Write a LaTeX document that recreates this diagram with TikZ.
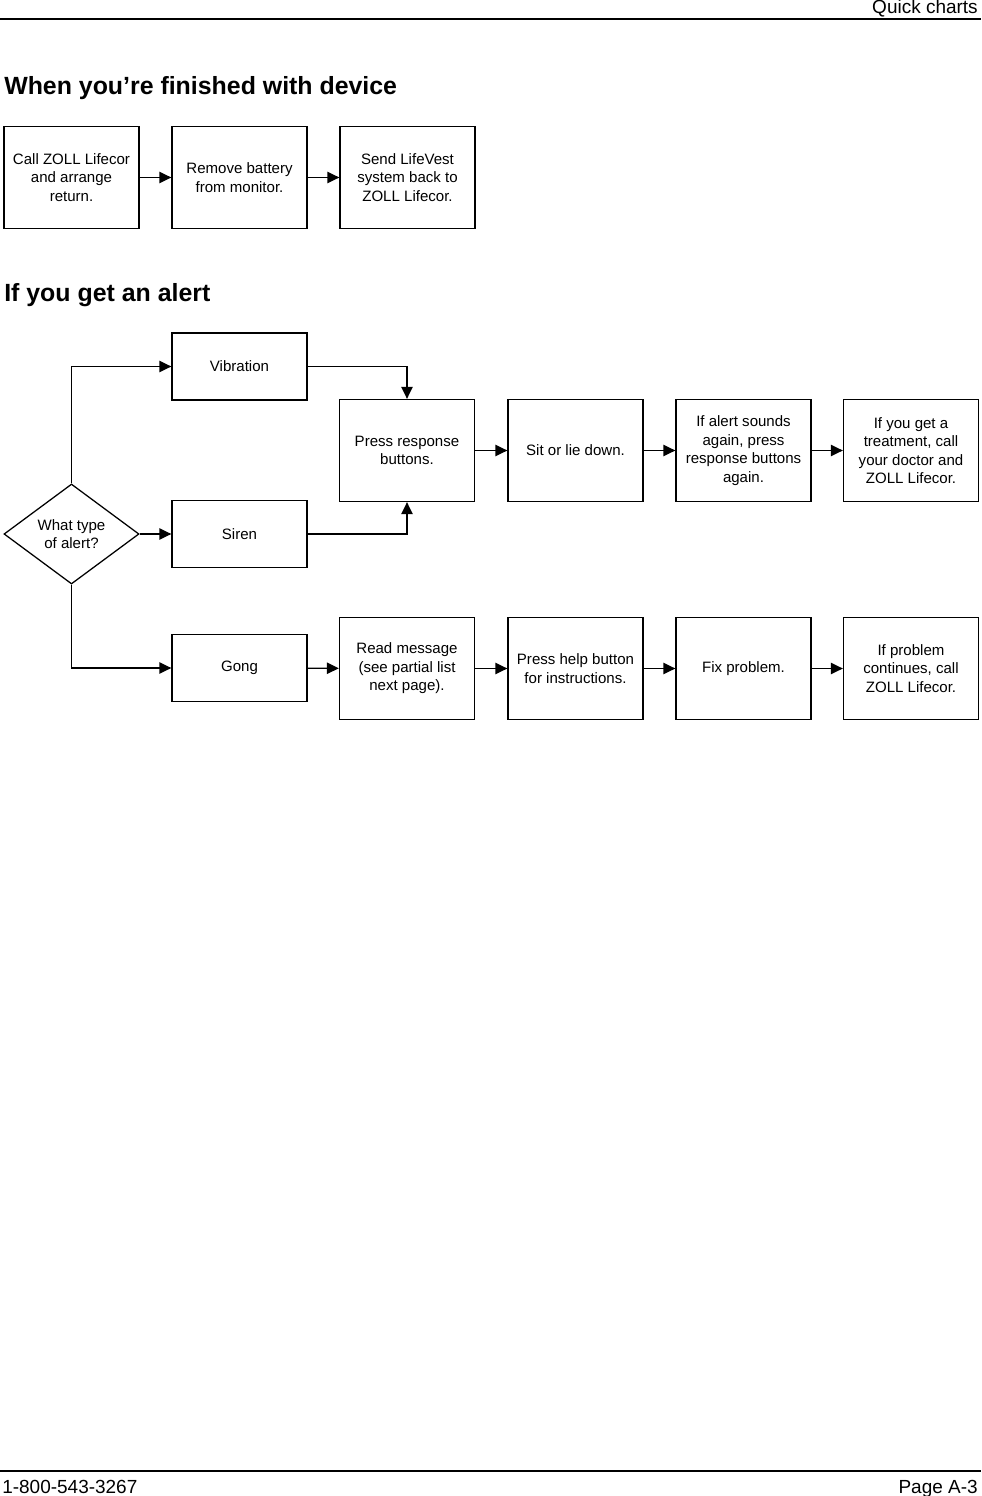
\documentclass[tikz,border=0pt]{standalone}
\usepackage{fontspec}
\setmainfont{Liberation Sans}
\usetikzlibrary{arrows.meta,shapes.geometric}

\begin{document}
\begin{tikzpicture}[x=0.025cm, y=0.025cm]
		\tikzstyle{every node}+=[inner sep=0pt]
		\tikzstyle{stepbox}=[draw=black, line width=0.9pt, align=center, minimum width=3.375cm, minimum height=2.55cm, font=\fontsize{10.7}{13.2}\selectfont]
		\tikzstyle{alertbox}=[stepbox, minimum height=1.67cm]
		\tikzstyle{askbox}=[stepbox, diamond, minimum width=3.375cm, minimum height=2.5cm]
		\tikzstyle{flow}=[black, line width=1pt, -{Triangle[length=8.5pt,width=8pt]}]
		\tikzstyle{heading}=[anchor=base west, font=\fontsize{17.7}{20}\bfseries\selectfont]
		\tikzstyle{pagetext}=[font=\fontsize{13.5}{15}\selectfont]
		\useasboundingbox (0,0) rectangle (981,-1496);
		% page header and footer
		\draw [black, line width=1.5pt] (0,-19) -- (981,-19);
		\draw [black, line width=1.5pt] (0,-1471) -- (981,-1471);
		\node [pagetext, anchor=base east] (hdr) at (978,-14) {Quick charts};
		\node [pagetext, anchor=base west] (phone) at (2,-1493) {1-800-543-3267};
		\node [pagetext, anchor=base east] (page) at (978,-1493) {Page A-3};
		% when you're finished
		\node [heading] (head1) at (4,-95) {When you’re finished with device};
		\node [stepbox] (call) at (71.5,-177.5) {Call ZOLL Lifecor\\and arrange\\return.};
		\node [stepbox] (battery) at (239.5,-177.5) {Remove battery\\from monitor.};
		\node [stepbox] (send) at (407.5,-177.5) {Send LifeVest\\system back to\\ZOLL Lifecor.};
		\draw [flow] (call) -- (battery);
		\draw [flow] (battery) -- (send);
		% if you get an alert
		\node [heading] (head2) at (4,-302) {If you get an alert};
		\node [askbox] (ask) at (71.5,-534) {What type\\of alert?};
		\node [alertbox] (vib) at (239.5,-366.5) {Vibration};
		\node [alertbox] (siren) at (239.5,-534) {Siren};
		\node [alertbox] (gong) at (239.5,-668) {Gong};
		\node [stepbox] (press) at (407,-450.5) {Press response\\buttons.};
		\node [stepbox] (sit) at (575.5,-450.5) {Sit or lie down.};
		\node [stepbox] (again) at (743.5,-450.5) {If alert sounds\\again, press\\response buttons\\again.};
		\node [stepbox] (treat) at (911,-450.5) {If you get a\\treatment, call\\your doctor and\\ZOLL Lifecor.};
		\node [stepbox] (read) at (407,-668.5) {Read message\\(see partial list\\next page).};
		\node [stepbox] (help) at (575.5,-668.5) {Press help button\\for instructions.};
		\node [stepbox] (fix) at (743.5,-668.5) {Fix problem.};
		\node [stepbox] (cont) at (911,-668.5) {If problem\\continues, call\\ZOLL Lifecor.};
		\draw [flow] (ask.north) |- (vib.west);
		\draw [flow] (ask.east) -- (siren.west);
		\draw [flow] (ask.south) |- (gong.west);
		\draw [flow] (vib.east) -| (press.north);
		\draw [flow] (siren.east) -| (press.south);
		\draw [flow] (press) -- (sit);
		\draw [flow] (sit) -- (again);
		\draw [flow] (again) -- (treat);
		\draw [flow] (gong) -- (read);
		\draw [flow] (read) -- (help);
		\draw [flow] (help) -- (fix);
		\draw [flow] (fix) -- (cont);
	\end{tikzpicture}
\end{document}
